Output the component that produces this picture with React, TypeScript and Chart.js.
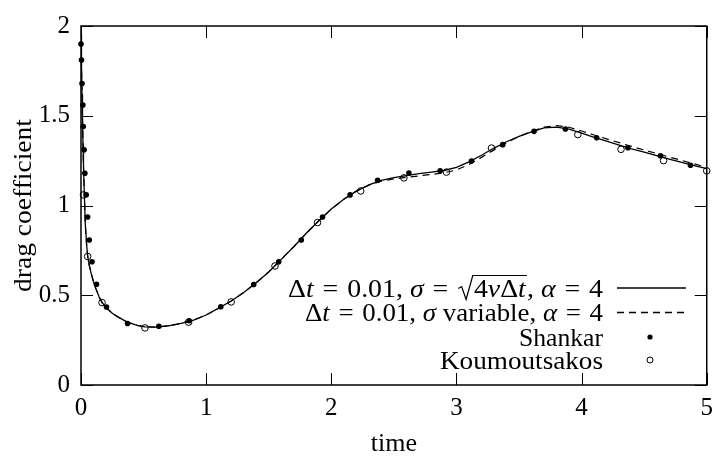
import React, { useEffect, useRef } from "react";
import { Chart, registerables } from "chart.js";

Chart.register(...registerables);

const FONT = '"Liberation Serif", serif';

// x ticks and y ticks
const xTicks = [0, 1, 2, 3, 4, 5];
const xTickLabels = ["0", "1", "2", "3", "4", "5"];
const yTicks = [0, 0.5, 1, 1.5, 2];
const yTickLabels = ["0", "0.5", "1", "1.5", "2"];

// Solid: dt = 0.01, sigma = sqrt(4 nu dt), alpha = 4
const solidT = [0, 0.004, 0.008, 0.012, 0.016, 0.02, 0.026, 0.034, 0.045, 0.053, 0.065, 0.08, 0.1, 0.12, 0.145, 0.17, 0.21, 0.25, 0.29, 0.37, 0.45, 0.51, 0.6, 0.7, 0.8, 0.9, 1.0, 1.1, 1.2, 1.3, 1.4, 1.5, 1.6, 1.7, 1.8, 1.9, 2.0, 2.1, 2.2, 2.3, 2.4, 2.5, 2.6, 2.7, 2.8, 2.9, 3.0, 3.1, 3.2, 3.3, 3.4, 3.5, 3.6, 3.7, 3.8, 3.9, 4.0, 4.1, 4.2, 4.3, 4.4, 4.5, 4.6, 4.7, 4.8, 4.9, 5.0];
const solidV = [1.95, 1.78, 1.62, 1.48, 1.34, 1.22, 1.08, 0.9, 0.78, 0.72, 0.67, 0.625, 0.575, 0.535, 0.49, 0.458, 0.425, 0.4, 0.381, 0.35, 0.332, 0.324, 0.322, 0.33, 0.343, 0.362, 0.39, 0.428, 0.468, 0.515, 0.57, 0.63, 0.7, 0.77, 0.845, 0.915, 0.98, 1.035, 1.08, 1.115, 1.14, 1.155, 1.167, 1.177, 1.186, 1.195, 1.213, 1.243, 1.28, 1.32, 1.355, 1.385, 1.41, 1.432, 1.437, 1.425, 1.403, 1.38, 1.358, 1.337, 1.316, 1.297, 1.278, 1.259, 1.24, 1.222, 1.205];

// Dashed: dt = 0.01, sigma variable, alpha = 4
const dashedT = [0, 0.004, 0.008, 0.012, 0.016, 0.02, 0.026, 0.034, 0.045, 0.053, 0.065, 0.08, 0.1, 0.12, 0.145, 0.17, 0.21, 0.25, 0.29, 0.37, 0.45, 0.51, 0.6, 0.7, 0.8, 0.9, 1.0, 1.1, 1.2, 1.3, 1.4, 1.5, 1.6, 1.7, 1.8, 1.9, 2.0, 2.1, 2.2, 2.3, 2.4, 2.5, 2.6, 2.7, 2.8, 2.9, 3.0, 3.1, 3.2, 3.3, 3.4, 3.5, 3.6, 3.7, 3.8, 3.9, 4.0, 4.1, 4.2, 4.3, 4.4, 4.5, 4.6, 4.7, 4.8, 4.9, 5.0];
const dashedV = [1.95, 1.78, 1.62, 1.48, 1.34, 1.22, 1.08, 0.9, 0.78, 0.72, 0.67, 0.625, 0.575, 0.535, 0.49, 0.458, 0.425, 0.4, 0.381, 0.35, 0.332, 0.324, 0.322, 0.33, 0.343, 0.362, 0.39, 0.428, 0.468, 0.515, 0.57, 0.63, 0.7, 0.77, 0.845, 0.915, 0.98, 1.035, 1.08, 1.113, 1.135, 1.148, 1.157, 1.165, 1.173, 1.182, 1.198, 1.228, 1.268, 1.31, 1.35, 1.385, 1.413, 1.437, 1.445, 1.436, 1.415, 1.393, 1.371, 1.35, 1.329, 1.309, 1.29, 1.27, 1.251, 1.232, 1.213];

// Shankar (filled dots)
const shankarT = [0.0, 0.004, 0.008, 0.015, 0.018, 0.025, 0.031, 0.042, 0.053, 0.066, 0.088, 0.124, 0.204, 0.372, 0.622, 0.864, 1.117, 1.38, 1.58, 1.76, 1.93, 2.15, 2.37, 2.62, 2.87, 3.12, 3.37, 3.62, 3.87, 4.12, 4.37, 4.63, 4.87];
const shankarV = [1.9, 1.81, 1.68, 1.56, 1.44, 1.31, 1.18, 1.06, 0.936, 0.808, 0.687, 0.561, 0.434, 0.343, 0.327, 0.358, 0.436, 0.56, 0.687, 0.808, 0.936, 1.059, 1.141, 1.181, 1.193, 1.248, 1.339, 1.413, 1.426, 1.377, 1.322, 1.277, 1.224];

// Koumoutsakos (open circles)
const koumT = [0.02, 0.053, 0.168, 0.511, 0.86, 1.2, 1.55, 1.89, 2.235, 2.58, 2.92, 3.28, 3.97, 4.315, 4.655, 5.0];
const koumV = [1.059, 0.716, 0.459, 0.318, 0.35, 0.463, 0.663, 0.905, 1.081, 1.154, 1.186, 1.32, 1.395, 1.313, 1.25, 1.193];

const xTitle = "time";
const yTitle = "drag coefficient";

const zip = (t: number[], v: number[]) => t.map((x, i) => ({ x, y: v[i] }));

type Run = { t?: string; i?: boolean; sp?: number; sqrt?: Run[] };

const EQ: Run[] = [{ sp: 8 }, { t: "=" }, { sp: 8 }];

const legendRows: { runs: Run[]; kind: string; width: number }[] = [
  {
    kind: "solid",
    width: 315,
    runs: [
      { t: "Δ" }, { t: "t", i: true }, ...EQ, { t: "0.01, " }, { t: "σ", i: true }, ...EQ,
      { sqrt: [{ t: "4" }, { t: "ν", i: true }, { t: "Δ" }, { t: "t", i: true }] },
      { t: ", " }, { t: "α", i: true }, ...EQ, { t: "4" },
    ],
  },
  {
    kind: "dashed",
    width: 298,
    runs: [
      { t: "Δ" }, { t: "t", i: true }, ...EQ, { t: "0.01, " }, { t: "σ", i: true }, { t: " variable, " },
      { t: "α", i: true }, ...EQ, { t: "4" },
    ],
  },
  { kind: "filled", width: 84, runs: [{ t: "Shankar" }] },
  { kind: "open", width: 163, runs: [{ t: "Koumoutsakos" }] },
];

const FS = 25;
const SQRT_W = 15;

function runWidth(ctx: CanvasRenderingContext2D, r: Run): number {
  if (r.sp !== undefined) return r.sp;
  if (r.sqrt) {
    return SQRT_W + r.sqrt.reduce((a, s) => a + runWidth(ctx, s), 0) + 1;
  }
  ctx.font = `${r.i ? "italic " : ""}${FS}px ${FONT}`;
  return ctx.measureText(r.t || "").width;
}

function drawRun(ctx: CanvasRenderingContext2D, r: Run, x: number, b: number): number {
  if (r.sp !== undefined) return r.sp;
  if (r.sqrt) {
    const w = runWidth(ctx, r);
    const top = b - 21;
    ctx.save();
    ctx.lineWidth = 1.1;
    ctx.beginPath();
    ctx.moveTo(x + 1, b - 8);
    ctx.lineTo(x + 4, b - 10);
    ctx.lineTo(x + 8, b + 3);
    ctx.lineTo(x + 14, top);
    ctx.lineTo(x + w, top);
    ctx.stroke();
    ctx.restore();
    let cx = x + SQRT_W;
    for (const s of r.sqrt) cx += drawRun(ctx, s, cx, b);
    return w;
  }
  ctx.font = `${r.i ? "italic " : ""}${FS}px ${FONT}`;
  ctx.fillText(r.t || "", x, b);
  return ctx.measureText(r.t || "").width;
}

const framePlugin = {
  id: "frameTicks",
  afterDraw(chart: any) {
    const { ctx, chartArea, scales } = chart;
    const { left, right, top, bottom } = chartArea;
    const x = scales.x;
    const y = scales.y;
    ctx.save();
    ctx.strokeStyle = "#000";
    ctx.fillStyle = "#000";
    ctx.lineWidth = 1;
    const TL = 12;
    ctx.beginPath();
    for (const v of xTicks) {
      const px = Math.round(x.getPixelForValue(v)) + 0.5;
      ctx.moveTo(px, bottom);
      ctx.lineTo(px, bottom - TL);
      ctx.moveTo(px, top);
      ctx.lineTo(px, top + TL);
    }
    for (const v of yTicks) {
      const py = Math.round(y.getPixelForValue(v)) + 0.5;
      ctx.moveTo(left, py);
      ctx.lineTo(left + TL, py);
      ctx.moveTo(right, py);
      ctx.lineTo(right - TL, py);
    }
    ctx.stroke();
    ctx.lineWidth = 1.5;
    ctx.strokeRect(left, top, right - left, bottom - top);

    // axis titles
    ctx.font = `${FS}px ${FONT}`;
    ctx.textBaseline = "alphabetic";
    ctx.textAlign = "center";
    ctx.save();
    ctx.translate((left + right) / 2, 451);
    ctx.scale(1.04, 1);
    ctx.fillText(xTitle, 0, 0);
    ctx.restore();
    ctx.save();
    ctx.translate(31, (top + bottom) / 2);
    ctx.rotate(-Math.PI / 2);
    ctx.scale(1.1, 1);
    ctx.fillText(yTitle, 0, 0);
    ctx.restore();

    // legend
    const textRight = 603;
    const sampleL = 617;
    const sampleR = 686;
    const sampleC = 650;
    const rowY = [288, 312.5, 337, 360];
    ctx.textAlign = "left";
    legendRows.forEach((row, k) => {
      const cy = rowY[k];
      const base = cy + 8.5;
      const total = row.runs.reduce((a, r) => a + runWidth(ctx, r), 0);
      const s = row.width / total;
      ctx.save();
      ctx.translate(textRight - row.width, base);
      ctx.scale(s, 1);
      let cx = 0;
      for (const r of row.runs) cx += drawRun(ctx, r, cx, 0);
      ctx.restore();
      ctx.save();
      ctx.lineWidth = 1.3;
      if (row.kind === "solid" || row.kind === "dashed") {
        ctx.setLineDash(row.kind === "dashed" ? [7, 5] : []);
        ctx.beginPath();
        ctx.moveTo(sampleL, cy);
        ctx.lineTo(sampleR, cy);
        ctx.stroke();
      } else if (row.kind === "filled") {
        ctx.beginPath();
        ctx.arc(sampleC, cy, 2.6, 0, Math.PI * 2);
        ctx.fill();
      } else {
        ctx.lineWidth = 1;
        ctx.beginPath();
        ctx.arc(sampleC, cy, 3, 0, Math.PI * 2);
        ctx.stroke();
      }
      ctx.restore();
    });
    ctx.restore();
  },
};

export default function App() {
  const ref = useRef<HTMLCanvasElement | null>(null);
  useEffect(() => {
    document.body.style.margin = "0";
    const canvas = ref.current;
    if (!canvas) return;
    const chart = new Chart(canvas, {
      type: "scatter",
      data: {
        datasets: [
          {
            label: "solid",
            data: zip(solidT, solidV),
            showLine: true,
            borderColor: "#000",
            borderWidth: 1.3,
            pointRadius: 0,
            tension: 0,
          },
          {
            label: "dashed",
            data: zip(dashedT, dashedV),
            showLine: true,
            borderColor: "#000",
            borderWidth: 1.2,
            borderDash: [7, 5],
            pointRadius: 0,
            tension: 0,
          },
          {
            label: "Shankar",
            data: zip(shankarT, shankarV),
            showLine: false,
            pointRadius: 2.8,
            pointBackgroundColor: "#000",
            pointBorderColor: "#000",
            pointBorderWidth: 0,
            clip: false,
          },
          {
            label: "Koumoutsakos",
            data: zip(koumT, koumV),
            showLine: false,
            pointRadius: 3.3,
            pointBackgroundColor: "#fff",
            pointBorderColor: "#000",
            pointBorderWidth: 1,
            clip: false,
          },
        ],
      },
      options: {
        animation: false,
        responsive: false,
        devicePixelRatio: 1,
        layout: { padding: { top: 18, right: 13, left: 0, bottom: 0 } },
        plugins: { legend: { display: false }, tooltip: { enabled: false } },
        scales: {
          x: {
            type: "linear",
            min: 0,
            max: 5,
            afterBuildTicks: (s: any) => {
              s.ticks = xTicks.map((v) => ({ value: v }));
            },
            afterFit: (s: any) => {
              s.height = 73;
            },
            grid: { display: false, drawTicks: false },
            border: { display: false },
            ticks: {
              font: { family: FONT, size: FS },
              color: "#000",
              padding: 8,
              maxRotation: 0,
              callback: (_v: any, i: number) => xTickLabels[i],
            },
          },
          y: {
            type: "linear",
            min: 0,
            max: 2,
            afterBuildTicks: (s: any) => {
              s.ticks = yTicks.map((v) => ({ value: v }));
            },
            afterFit: (s: any) => {
              s.width = 81;
            },
            grid: { display: false, drawTicks: false },
            border: { display: false },
            ticks: {
              font: { family: FONT, size: FS },
              color: "#000",
              padding: 11,
              callback: (_v: any, i: number) => yTickLabels[i],
            },
          },
        },
      },
      plugins: [framePlugin],
    } as any);
    return () => chart.destroy();
  }, []);
  return <canvas ref={ref} width={721} height={458} style={{ display: "block" }} />;
}
